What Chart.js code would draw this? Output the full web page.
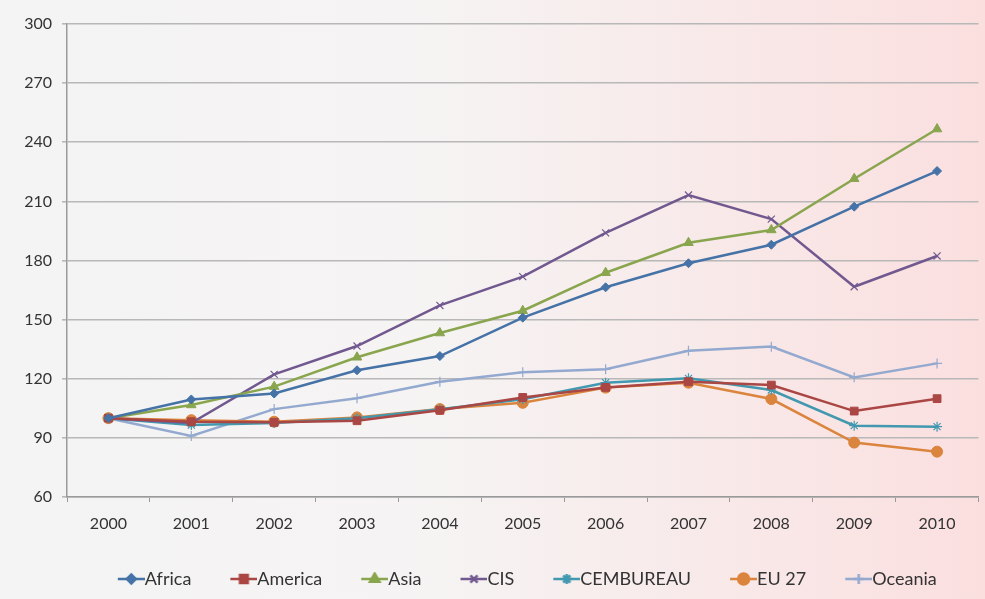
<!DOCTYPE html>
<html>
<head>
<meta charset="utf-8">
<script src="https://cdn.jsdelivr.net/npm/chart.js@4"></script>
<style>
  html, body { margin: 0; padding: 0; background: #f4f4f4; }
  #wrap { width: 985px; height: 599px; position: relative; }
</style>
</head>
<body>
<div id="wrap"><canvas id="c" width="985" height="599"></canvas></div>
<script>
const years = ['2000','2001','2002','2003','2004','2005','2006','2007','2008','2009','2010'];
const africa    = [100, 109.5, 112.5, 124.3, 131.5, 151.0, 166.4, 178.6, 188.0, 207.3, 225.4];
const america   = [100, 98.2, 97.9, 98.7, 104.0, 110.5, 115.6, 118.5, 116.8, 103.6, 109.9];
const asia      = [100, 106.7, 116.0, 130.9, 143.2, 154.5, 173.8, 189.0, 195.5, 221.5, 246.7];
const cis       = [100, 97.5, 122.2, 136.6, 157.2, 171.8, 194.0, 213.2, 201.0, 166.7, 182.3];
const cembureau = [100, 96.5, 97.5, 100.0, 104.5, 109.6, 118.0, 120.2, 114.3, 96.2, 95.7];
const eu27      = [100, 99.0, 98.2, 100.4, 104.6, 107.8, 115.5, 118.0, 109.7, 87.6, 83.0];
const oceania   = [100, 91.0, 104.6, 110.1, 118.5, 123.3, 124.8, 134.2, 136.3, 120.7, 127.8];
const yTicks = [60, 90, 120, 150, 180, 210, 240, 270, 300];

const seriesDefs = [
  {label:'Africa',    data:africa,    color:'#4572A7', style:'rectRot',  r:4.5, bw:1},
  {label:'America',   data:america,   color:'#AA4643', style:'rect',     r:5.5, bw:1},
  {label:'Asia',      data:asia,      color:'#89A54E', style:'triangle', r:5.5, bw:1},
  {label:'CIS',       data:cis,       color:'#71588F', style:'crossRot', r:5,   bw:1.2},
  {label:'CEMBUREAU', data:cembureau, color:'#4198AF', style:'star',     r:5,   bw:1.2},
  {label:'EU 27',     data:eu27,      color:'#DB843D', style:'circle',   r:5.5, bw:1},
  {label:'Oceania',   data:oceania,   color:'#93A9CF', style:'cross',    r:5,   bw:1.2}
];

const LEG_FONT = 18;
const LEG_BOX = 27;
function legendImg(s) {
  const off = LEG_FONT / 2;
  const cv = document.createElement('canvas');
  cv.width = LEG_BOX + 2 * off; cv.height = 14;
  const g = cv.getContext('2d');
  g.strokeStyle = s.color; g.lineWidth = 2.5;
  g.beginPath(); g.moveTo(2 * off, 7); g.lineTo(cv.width, 7); g.stroke();
  g.fillStyle = s.color; g.strokeStyle = s.color;
  Chart.helpers.drawPoint(g, {pointStyle: s.style, radius: s.r, borderWidth: s.bw, rotation: 0}, 2 * off + LEG_BOX / 2, 7);
  if (s.style !== 'cross' && s.style !== 'crossRot' && s.style !== 'star') g.fill();
  return cv;
}

const bgPlugin = {
  id: 'bg',
  beforeDraw(chart) {
    const ctx = chart.ctx;
    const grd = ctx.createLinearGradient(0, 0, chart.width, 0);
    grd.addColorStop(0, '#f4f4f4');
    grd.addColorStop(0.45, '#f6f3f3');
    grd.addColorStop(1, '#fbdfdf');
    ctx.save();
    ctx.fillStyle = grd;
    ctx.fillRect(0, 0, chart.width, chart.height);
    ctx.restore();
  }
};

const datasets = seriesDefs.map(s => ({
  label: s.label,
  data: s.data,
  borderColor: s.color,
  backgroundColor: s.color,
  borderWidth: 2.5,
  pointStyle: s.style,
  pointRadius: s.r,
  pointBorderWidth: s.bw,
  pointBackgroundColor: s.color,
  pointBorderColor: s.color,
  tension: 0,
  fill: false
}));

const legendImages = seriesDefs.map(legendImg);

new Chart(document.getElementById('c'), {
  type: 'line',
  data: { labels: years, datasets },
  plugins: [bgPlugin],
  options: {
    responsive: false,
    animation: false,
    layout: { padding: { left: 0, right: 4, top: 24, bottom: 1 } },
    plugins: {
      tooltip: { enabled: false },
      legend: {
        position: 'bottom',
        fullSize: false,
        labels: {
          usePointStyle: true,
          pointStyleWidth: LEG_BOX,
          padding: 30,
          color: '#333333',
          font: { family: 'Lato', size: LEG_FONT },
          generateLabels(chart) {
            return seriesDefs.map((s, i) => ({
              text: s.label,
              fillStyle: s.color,
              strokeStyle: s.color,
              lineWidth: 0,
              pointStyle: legendImages[i],
              datasetIndex: i,
              hidden: false,
              fontColor: '#333333'
            }));
          }
        }
      }
    },
    scales: {
      x: {
        offset: true,
        grid: { offset: true, drawOnChartArea: false, drawTicks: true, tickLength: 5, color: '#9a9a9a', lineWidth: 1 },
        border: { display: true, color: '#9a9a9a', width: 1.5 },
        ticks: { color: '#333333', font: { family: 'Lato', size: 16 }, padding: 12, maxRotation: 0 },
        afterFit(axis) { axis.height = 43; }
      },
      y: {
        min: 60, max: 300,
        afterBuildTicks(axis) { axis.ticks = yTicks.map(v => ({ value: v })); },
        grid: { color: '#b8b8b8', lineWidth: 1.6, drawTicks: true, tickLength: 5 },
        border: { display: true, color: '#9a9a9a', width: 1.5 },
        ticks: { color: '#333333', font: { family: 'Lato', size: 16 }, padding: 10 },
        afterFit(axis) { axis.width = 67; }
      }
    }
  }
});
</script>
</body>
</html>
